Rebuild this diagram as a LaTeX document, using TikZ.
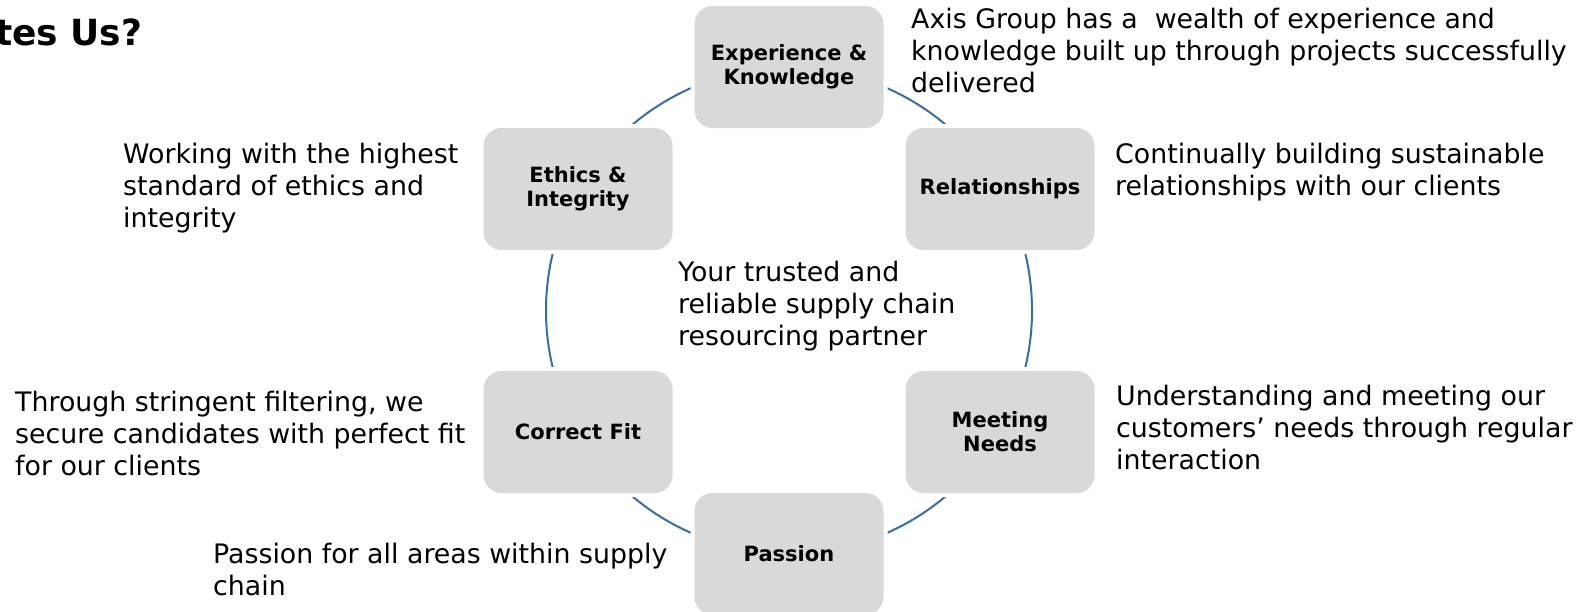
\documentclass[tikz,border=0pt]{standalone}
\usepackage{fontspec}
\setmainfont{DejaVu Sans}
\usetikzlibrary{positioning}
\definecolor{ringblue}{RGB}{58,110,160}
\definecolor{boxgray}{RGB}{217,217,217}
\tikzset{>=latex}
\tikzset{
  valuebox/.style={rectangle, rounded corners=18, fill=boxgray,
    preaction={draw=white, line width=8}, minimum width=189, minimum height=122,
    inner sep=0, align=center, font=\fontsize{21}{24}\selectfont\bfseries},
  blurb/.style={anchor=base west, inner sep=0, align=left,
    font=\fontsize{26.8}{32}\selectfont},
}

\begin{document}
\begin{tikzpicture}[x=1pt, y=-1pt]
\useasboundingbox (0,0) rectangle (1582,611);
\coordinate (hub) at (789,310.5);
\draw[ringblue, line width=2] (hub) circle [radius=243];
\node[valuebox] (exp)  at (789,67)  {Experience \&\\Knowledge};
\node[valuebox] (rel)  at (1000,189) {Relationships};
\node[valuebox] (meet) at (1000,432) {Meeting\\Needs};
\node[valuebox] (pass) at (789,554) {Passion};
\node[valuebox] (fit)  at (578,432) {Correct Fit};
\node[valuebox] (eth)  at (578,189) {Ethics \&\\Integrity};
\node[anchor=base west, inner sep=0, font=\fontsize{36}{42}\selectfont\bfseries] (title) at (-5,45) {tes Us?};
% base anchor sits on the last line of each text
\node[blurb] (exptext) at (911,92) {Axis Group has a~ wealth of experience and\\knowledge built up through projects successfully\\delivered};
\node[blurb] (reltext) at (1115,195) {Continually building sustainable\\relationships with our clients};
\node[blurb] (meettext) at (1116,469) {Understanding and meeting our\\customers’ needs through regular\\interaction};
\node[blurb] (hubtext) at (678,345) {Your trusted and\\reliable supply chain\\resourcing partner};
\node[blurb] (ethtext) at (123,227) {Working with the highest\\standard of ethics and\\integrity};
\node[blurb] (fittext) at (15,475) {Through stringent filtering, we\\secure candidates with perfect fit\\for our clients};
\node[blurb] (passtext) at (213,595) {Passion for all areas within supply\\chain};
\end{tikzpicture}
\end{document}
